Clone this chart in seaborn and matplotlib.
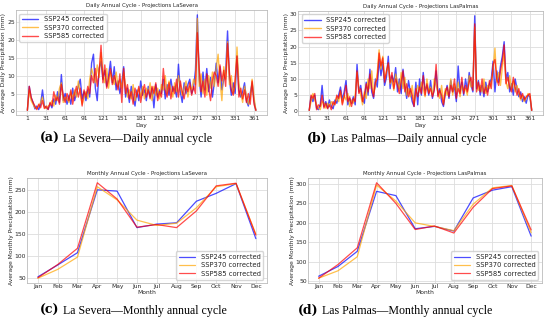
import numpy as np
import matplotlib.pyplot as plt
import seaborn as sns

# ---- daily data (values read every 3 days: day 1, 4, 7, ..., 364) ----
days = np.arange(1, 366, 3)

sev_245 = [0.3, 7.0, 3.8, 2.5, 0.7, 1.5, 0.5, 2.0, 6.0, 1.5,
           1.0, 0.6, 2.2, 1.0, 3.5, 2.0, 5.5, 2.5, 10.3, 3.0,
           5.0, 2.0, 4.5, 2.0, 6.5, 3.0, 5.0, 7.0, 9.0, 3.5,
           5.5, 3.0, 6.0, 4.0, 13.5, 16.0, 6.5, 3.0, 12.0, 14.0,
           9.0, 11.5, 7.0, 10.0, 14.0, 8.0, 12.5, 6.0, 8.5, 5.0,
           8.0, 12.5, 4.0, 6.5, 2.5, 7.0, 4.0, 1.5, 6.0, 3.0,
           8.5, 4.5, 6.0, 3.0, 7.0, 4.0, 6.5, 1.0, 7.5, 4.0,
           6.0, 5.0, 9.0, 3.5, 7.5, 4.5, 9.0, 5.5, 7.0, 4.0,
           13.2, 5.5, 2.5, 8.0, 5.0, 7.5, 9.0, 5.0, 6.5, 11.5,
           27.0, 9.0, 4.0, 11.0, 6.0, 12.0, 5.5, 9.5, 4.0, 8.0,
           13.5, 8.0, 12.5, 6.0, 9.0, 11.0, 22.5, 9.0, 4.5, 8.0,
           5.0, 15.5, 6.0, 4.0, 5.5, 8.0, 3.0, 1.5, 5.0, 8.0,
           3.0, 0.3]
sev_370 = [0.3, 6.0, 3.0, 2.0, 1.0, 0.8, 1.5, 2.5, 4.0, 1.2,
           0.8, 1.5, 1.8, 3.0, 1.5, 4.5, 3.0, 6.5, 8.0, 2.5,
           4.0, 3.5, 2.5, 5.5, 3.5, 6.0, 4.0, 8.5, 5.0, 2.0,
           4.0, 5.5, 3.5, 9.0, 12.0, 10.0, 8.0, 13.0, 9.5, 16.5,
           10.5, 8.0, 12.0, 6.5, 11.0, 9.0, 7.5, 11.0, 7.0, 9.0,
           6.5, 11.0, 7.0, 4.0, 6.0, 3.5, 7.5, 3.0, 5.0, 6.5,
           4.0, 7.0, 3.5, 6.5, 5.0, 8.0, 3.0, 7.0, 4.5, 6.5,
           3.5, 7.5, 6.0, 10.0, 5.0, 8.5, 6.0, 4.0, 8.0, 5.5,
           10.0, 7.0, 4.5, 6.5, 8.5, 4.0, 7.0, 6.0, 9.0, 7.5,
           26.0, 7.0, 10.5, 5.0, 9.0, 4.5, 10.0, 6.5, 11.0, 7.0,
           12.0, 16.0, 8.5, 3.0, 12.5, 9.0, 19.5, 7.5, 10.0, 5.0,
           7.0, 18.0, 8.0, 5.0, 2.5, 7.0, 4.5, 2.0, 3.5, 9.0,
           4.0, 0.3]
sev_585 = [0.3, 7.0, 4.0, 2.5, 1.5, 0.5, 2.0, 1.0, 3.0, 0.8,
           1.5, 0.5, 2.5, 1.5, 5.5, 3.0, 4.0, 2.0, 7.5, 4.5,
           2.5, 5.0, 3.0, 6.0, 2.0, 5.0, 7.0, 4.0, 6.5, 1.5,
           6.0, 4.0, 7.0, 5.0, 10.0, 8.0, 12.0, 7.0, 11.0, 18.5,
           8.0, 13.0, 6.5, 9.0, 12.0, 7.5, 10.0, 8.0, 6.0, 10.5,
           2.5, 12.0, 5.0, 7.5, 3.5, 5.5, 2.0, 6.5, 4.0, 7.0,
           2.5, 5.5, 7.5, 4.0, 6.0, 3.5, 7.0, 5.0, 8.0, 3.0,
           5.5, 4.0, 12.0, 6.0, 4.0, 8.0, 3.5, 7.0, 5.0, 9.0,
           4.0, 8.5, 5.5, 3.5, 7.0, 5.5, 8.0, 4.5, 7.0, 5.0,
           22.0, 12.0, 5.5, 8.5, 4.0, 10.5, 6.5, 3.0, 8.5, 11.0,
           10.0, 7.0, 13.0, 8.5, 11.5, 7.0, 19.0, 11.0, 6.0, 4.5,
           9.0, 15.5, 4.0, 6.5, 3.5, 6.0, 2.5, 5.0, 2.0, 8.5,
           2.0, 0.3]

pal_245 = [0.3, 4.5, 3.0, 5.0, 1.0, 0.5, 2.0, 8.0, 1.5, 3.0,
           1.0, 3.5, 1.5, 0.8, 3.5, 2.5, 5.0, 7.5, 3.5, 6.0,
           9.5, 2.0, 4.0, 2.5, 4.5, 2.0, 14.5, 6.0, 8.0, 3.5,
           2.5, 9.0, 5.0, 13.0, 6.0, 4.0, 10.0, 7.5, 16.0, 11.0,
           15.0, 8.0, 10.5, 17.0, 7.0, 11.0, 9.0, 13.5, 6.0, 10.0,
           5.5, 13.0, 8.0, 4.0, 9.5, 6.0, 3.0, 1.5, 9.0, 2.0,
           10.0, 5.0, 12.0, 6.5, 8.0, 5.0, 9.5, 4.0, 7.0, 12.5,
           5.0, 7.0, 3.0, 1.5, 5.5, 8.0, 4.0, 9.5, 6.0, 7.5,
           3.0, 14.0, 6.0, 9.0, 5.0, 10.0, 6.5, 12.0, 8.0, 6.0,
           29.5, 7.0, 9.5, 5.0, 8.0, 4.5, 9.0, 6.0, 8.5, 10.0,
           15.5, 6.0, 12.5, 9.0, 14.0, 17.0, 21.5, 10.0, 12.0, 6.0,
           8.5, 5.0, 10.0, 7.0, 4.5, 6.0, 3.0, 4.5, 2.5, 5.0,
           4.5, 0.3]
pal_370 = [0.3, 3.0, 5.5, 3.5, 2.0, 1.0, 0.5, 3.0, 2.5, 1.0,
           2.5, 1.5, 3.0, 2.0, 2.5, 4.5, 3.0, 6.0, 2.5, 5.0,
           3.5, 5.5, 1.5, 3.5, 2.5, 5.0, 12.0, 7.0, 5.0, 2.0,
           6.0, 4.0, 10.0, 7.0, 12.5, 5.5, 8.0, 12.0, 19.0, 13.0,
           17.0, 10.0, 12.0, 14.5, 8.5, 10.0, 6.5, 11.5, 9.0, 7.0,
           12.0, 7.0, 10.5, 5.0, 7.0, 4.5, 8.0, 2.5, 5.5, 8.0,
           6.0, 9.0, 7.0, 4.5, 10.0, 6.0, 7.5, 5.0, 10.0, 8.0,
           6.0, 4.0, 8.0, 2.5, 7.0, 5.0, 6.5, 10.0, 5.0, 8.5,
           6.0, 9.0, 4.5, 8.0, 6.5, 7.0, 5.0, 11.0, 7.5, 8.0,
           26.0, 9.0, 6.5, 8.0, 6.0, 10.0, 5.5, 8.0, 7.0, 9.0,
           13.0, 19.5, 9.0, 12.0, 8.0, 13.5, 18.0, 9.0, 7.0, 11.0,
           7.0, 9.5, 6.0, 8.0, 5.5, 3.5, 5.0, 3.0, 4.0, 5.5,
           5.0, 0.3]
pal_585 = [0.3, 5.0, 4.0, 5.5, 0.5, 2.0, 1.5, 5.0, 1.0, 2.5,
           0.8, 2.0, 0.5, 3.0, 2.0, 5.0, 4.0, 6.5, 2.0, 4.5,
           8.0, 3.0, 4.5, 1.5, 4.0, 3.0, 12.5, 5.5, 7.0, 3.0,
           5.0, 8.5, 6.0, 11.5, 7.5, 4.5, 9.0, 10.0, 18.0, 14.0,
           16.5, 9.0, 12.5, 15.0, 9.0, 12.0, 7.0, 10.0, 8.0, 5.5,
           9.0, 12.5, 6.0, 8.5, 4.5, 7.0, 5.0, 1.5, 7.0, 4.5,
           7.5, 5.5, 11.0, 5.0, 8.5, 5.5, 7.0, 4.5, 6.5, 14.5,
           4.5, 6.5, 5.0, 2.0, 6.0, 7.5, 4.5, 8.0, 6.0, 10.0,
           4.0, 7.0, 5.5, 10.5, 5.5, 8.0, 6.0, 9.0, 10.5, 6.5,
           27.0, 6.0, 9.0, 6.0, 10.0, 5.5, 7.5, 5.0, 9.5, 7.0,
           14.5, 16.0, 10.0, 8.0, 12.5, 15.5, 20.5, 8.5, 10.5, 7.5,
           6.0, 10.5, 7.5, 5.0, 7.0, 4.0, 5.5, 3.5, 4.5, 5.0,
           5.5, 0.3]

# ---- monthly data ----
months = ['Jan', 'Feb', 'Mar', 'Apr', 'May', 'Jun',
          'Jul', 'Aug', 'Sep', 'Oct', 'Nov', 'Dec']
sev_m245 = [53, 80, 108, 251, 248, 165, 173, 176, 225, 243, 265, 140]
sev_m370 = [50, 70, 98, 258, 228, 182, 170, 175, 210, 258, 265, 150]
sev_m585 = [51, 81, 118, 267, 230, 166, 172, 165, 203, 260, 266, 148]
pal_m245 = [63, 88, 127, 281, 270, 185, 191, 179, 264, 284, 293, 166]
pal_m370 = [58, 77, 113, 297, 256, 200, 191, 180, 248, 290, 296, 175]
pal_m585 = [58, 93, 136, 303, 250, 183, 192, 174, 240, 288, 295, 182]

scenarios = ['SSP245 corrected', 'SSP370 corrected', 'SSP585 corrected']
colors = ['blue', 'orange', 'red']

sns.set_theme(style="whitegrid")
plt.rcParams['font.family'] = ['DejaVu Sans']
fs = 4.3
legend_fs = 4.9

fig = plt.figure(figsize=(5.5, 3.26), dpi=100)
ax_a = fig.add_axes([0.029, 0.647, 0.457, 0.322])
ax_b = fig.add_axes([0.542, 0.647, 0.445, 0.319])
ax_c = fig.add_axes([0.049, 0.132, 0.436, 0.322])
ax_d = fig.add_axes([0.560, 0.132, 0.425, 0.322])


def style_axes(ax, title, xlabel, ylabel):
    ax.set_title(title, fontsize=3.9, pad=2)
    ax.set_xlabel(xlabel, fontsize=fs, labelpad=1)
    ax.set_ylabel(ylabel, fontsize=fs, labelpad=0.5)
    ax.tick_params(labelsize=fs, pad=0.8, length=0)
    ax.grid(True, color='#dddddd', linewidth=0.6)
    for s in ax.spines.values():
        s.set_color('#bbbbbb')
        s.set_linewidth(0.6)


for ax, series, site in [(ax_a, [sev_245, sev_370, sev_585], 'LaSevera'),
                         (ax_b, [pal_245, pal_370, pal_585], 'LasPalmas')]:
    for vals, name, c in zip(series, scenarios, colors):
        sns.lineplot(x=days, y=vals, ax=ax, color=c, alpha=0.7,
                     linewidth=1.0, label=name)
    ax.set_xticks(np.arange(1, 366, 30))
    style_axes(ax, 'Daily Annual Cycle - Projections ' + site, 'Day',
               'Average Daily Precipitation (mm)')
    ax.legend(loc='upper left', fontsize=legend_fs, frameon=True,
              handlelength=2.4, borderpad=0.4, labelspacing=0.35)

for ax, series, site in [(ax_c, [sev_m245, sev_m370, sev_m585], 'LaSevera'),
                         (ax_d, [pal_m245, pal_m370, pal_m585], 'LasPalmas')]:
    for vals, name, c in zip(series, scenarios, colors):
        sns.lineplot(x=np.arange(12), y=vals, ax=ax, color=c, alpha=0.7,
                     linewidth=0.9, label=name)
    ax.set_xticks(np.arange(12))
    ax.set_xticklabels(months)
    style_axes(ax, 'Monthly Annual Cycle - Projections ' + site, 'Month',
               'Average Monthly Precipitation (mm)')
    ax.legend(loc='lower right', fontsize=legend_fs, frameon=True,
              handlelength=2.4, borderpad=0.4, labelspacing=0.35)

# captions under each panel
captions = [(0.073, 0.565, '(a)', 'La Severa—Daily annual cycle'),
            (0.558, 0.565, '(b)', 'Las Palmas—Daily annual cycle'),
            (0.073, 0.037, '(c)', 'La Severa—Monthly annual cycle'),
            (0.542, 0.037, '(d)', 'Las Palmas—Monthly annual cycle')]
for x, y, tag, text in captions:
    t = fig.text(x, y, tag, fontsize=9, fontweight='bold',
                 family='DejaVu Serif', color='black', va='baseline')
    plt.annotate(' ' + text, xy=(1, 0), xycoords=t, va='bottom',
                 fontsize=8.6, family='Liberation Serif', color='black',
                 annotation_clip=False)

fig.savefig('out.png', dpi=100)
